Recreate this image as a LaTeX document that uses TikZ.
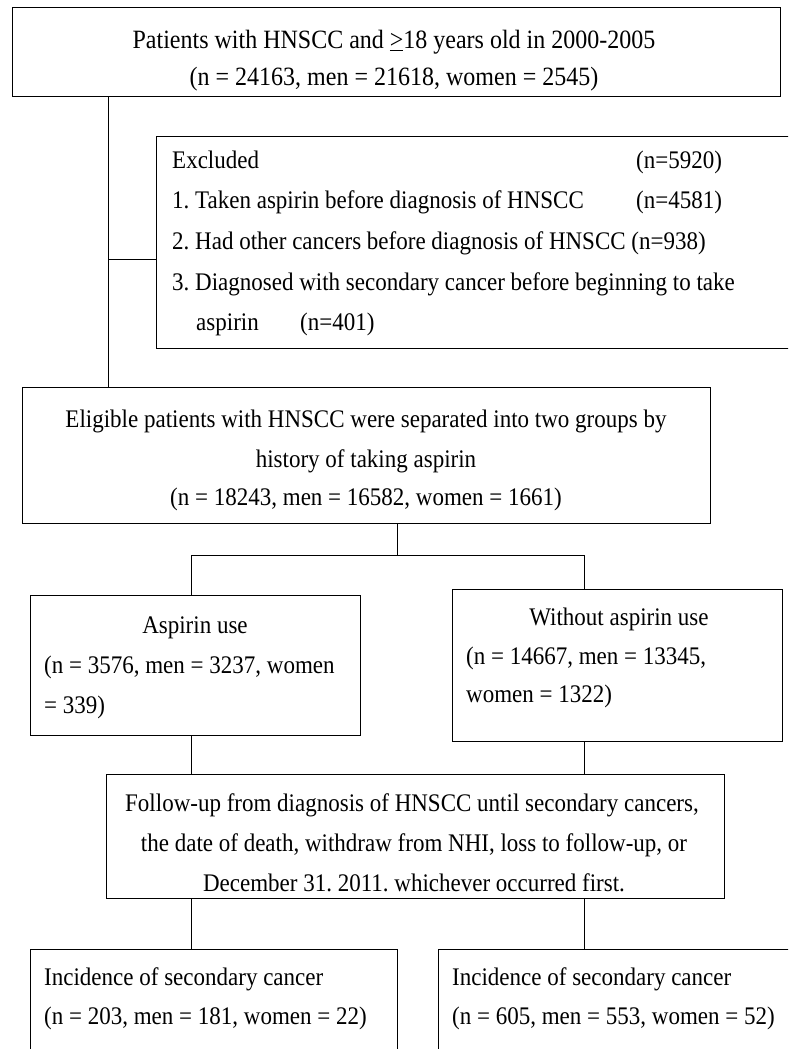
\documentclass[tikz,border=0pt]{standalone}
\usepackage{fontspec}
\setmainfont{Liberation Serif}
\newcommand{\tall}[1]{\scalebox{1}[1.1]{#1}}
\begin{document}
\frenchspacing
\begin{tikzpicture}[x=1pt,y=-1pt,
  box/.style={draw, line width=1.3pt, anchor=north west, inner sep=0pt},
  conn/.style={line width=0.8pt},
  txt/.style={inner sep=0pt, font=\fontsize{23}{27}\selectfont},
  bigtxt/.style={inner sep=0pt, font=\fontsize{24}{28}\selectfont, anchor=mid},
  ctxt/.style={txt, anchor=mid},
  ltxt/.style={txt, anchor=mid west}]
\useasboundingbox (0,0) rectangle (788,1049);
\clip (0,0) rectangle (788,1049);
% boxes
\node[box, minimum width=768pt, minimum height=89pt] (top) at (12,7) {};
\node[box, minimum width=640pt, minimum height=212pt] (excl) at (156,136) {};
\node[box, minimum width=688pt, minimum height=136pt] (elig) at (22,387) {};
\node[box, minimum width=330pt, minimum height=140pt] (asp) at (30,595) {};
\node[box, minimum width=330pt, minimum height=152pt] (noasp) at (452,589) {};
\node[box, minimum width=618pt, minimum height=124pt] (fol) at (106,774) {};
\node[box, minimum width=367pt, minimum height=140pt] (incA) at (30,949) {};
\node[box, minimum width=360pt, minimum height=140pt] (incB) at (438,949) {};
% texts
\node[bigtxt] (t1) at (394,46) {\tall{Patients with HNSCC and \underline{>}18 years old in 2000-2005}};
\node[bigtxt] (t2) at (394,83) {\tall{(n = 24163, men = 21618, women = 2545)}};
\node[ltxt] (e1) at (172,166) {\tall{Excluded}};
\node[ltxt] (e1n) at (636,166) {\tall{(n=5920)}};
\node[ltxt] (e2) at (172,206) {\tall{1. Taken aspirin before diagnosis of HNSCC}};
\node[ltxt] (e2n) at (636,206) {\tall{(n=4581)}};
\node[ltxt] (e3) at (172,247) {\tall{2. Had other cancers before diagnosis of HNSCC (n=938)}};
\node[ltxt] (e4) at (172,288) {\tall{3. Diagnosed with secondary cancer before beginning to take}};
\node[ltxt] (e5) at (196,328) {\tall{aspirin}};
\node[ltxt] (e5n) at (300,328) {\tall{(n=401)}};
\node[ctxt] (g1) at (366,425) {\tall{Eligible patients with HNSCC were separated into two groups by}};
\node[ctxt] (g2) at (366,465) {\tall{history of taking aspirin}};
\node[ctxt] (g3) at (366,503) {\tall{(n = 18243, men = 16582, women = 1661)}};
\node[ctxt] (a1) at (195,631) {\tall{Aspirin use}};
\node[ltxt] (a2) at (44,671) {\tall{(n = 3576, men = 3237, women}};
\node[ltxt] (a3) at (44,711) {\tall{= 339)}};
\node[ctxt] (b1) at (619,623) {\tall{Without aspirin use}};
\node[ltxt] (b2) at (466,662) {\tall{(n = 14667, men = 13345,}};
\node[ltxt] (b3) at (466,700) {\tall{women = 1322)}};
\node[ctxt] (f1) at (412,809) {\tall{Follow-up from diagnosis of HNSCC until secondary cancers,}};
\node[ctxt] (f2) at (414,849) {\tall{the date of death, withdraw from NHI, loss to follow-up, or}};
\node[ctxt] (f3) at (414,889) {\tall{December 31. 2011. whichever occurred first.}};
\node[ltxt] (i1) at (44,983) {\tall{Incidence of secondary cancer}};
\node[ltxt] (i2) at (44,1022) {\tall{(n = 203, men = 181, women = 22)}};
\node[ltxt] (j1) at (452,983) {\tall{Incidence of secondary cancer}};
\node[ltxt] (j2) at (452,1022) {\tall{(n = 605, men = 553, women = 52)}};
% connector x positions
\coordinate (xT) at (108,0);
\coordinate (yB) at (0,259);
\coordinate (xM) at (397,0);
\coordinate (yH) at (0,555);
\coordinate (xL) at (191,0);
\coordinate (xR) at (584,0);
\coordinate (hL) at (191,555);
\coordinate (hR) at (584,555);
% connectors
\draw[conn] (top.south -| xT) -- (elig.north -| xT);
\draw[conn] (xT |- yB) -- (excl.west |- yB);
\draw[conn] (elig.south -| xM) -- (xM |- yH);
\draw[conn] (hL) -- (hR);
\draw[conn] (hL) -- (asp.north -| hL);
\draw[conn] (hR) -- (noasp.north -| hR);
\draw[conn] (asp.south -| xL) -- (fol.north -| xL);
\draw[conn] (noasp.south -| xR) -- (fol.north -| xR);
\draw[conn] (fol.south -| xL) -- (incA.north -| xL);
\draw[conn] (fol.south -| xR) -- (incB.north -| xR);
\end{tikzpicture}
\end{document}
